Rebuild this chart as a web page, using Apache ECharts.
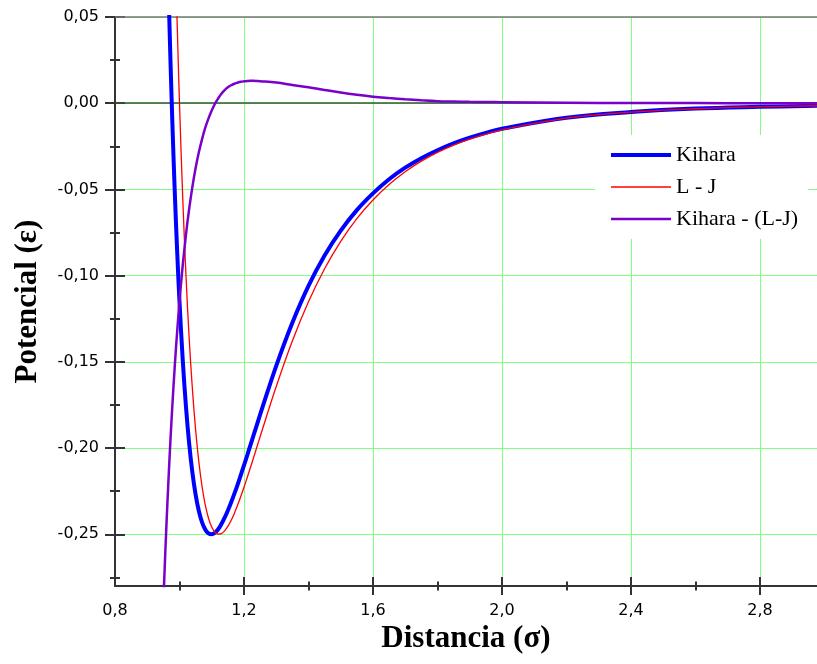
<!DOCTYPE html>
<html>
<head>
<meta charset="utf-8">
<script src="https://cdn.jsdelivr.net/npm/echarts@6/dist/echarts.min.js"></script>
<style>
  html, body { margin: 0; padding: 0; background: #fff; }
  #chart { width: 817px; height: 664px; }
</style>
</head>
<body>
<div id="chart"></div>
<script>
// Distance (sigma)
var distancia = [0.95,0.955,0.96,0.965,0.97,0.975,0.98,0.985,0.99,0.995,1.00,1.01,1.02,1.03,1.04,1.05,1.06,1.07,1.08,1.09,1.10,1.11,1.12,1.13,1.14,1.15,1.16,1.17,1.18,1.19,1.20,1.21,1.22,1.23,1.24,1.25,1.30,1.35,1.40,1.45,1.50,1.55,1.60,1.65,1.70,1.75,1.80,1.85,1.90,1.95,2.00,2.20,2.40,2.60,2.80,3.00];
// Kihara potential (epsilon)
var kihara = [0.2006,0.1542,0.1119,0.0733,0.0381,0.0061,-0.0231,-0.0496,-0.0736,-0.0954,-0.1150,-0.1487,-0.1758,-0.1974,-0.2142,-0.2270,-0.2365,-0.2431,-0.2473,-0.2495,-0.2500,-0.2491,-0.2471,-0.2441,-0.2404,-0.2362,-0.2316,-0.2266,-0.2213,-0.2157,-0.2100,-0.2042,-0.1983,-0.1924,-0.1865,-0.1806,-0.1523,-0.1273,-0.1059,-0.0883,-0.0739,-0.0620,-0.0523,-0.0441,-0.0374,-0.0319,-0.0273,-0.0233,-0.0200,-0.0172,-0.0148,-0.0084,-0.0051,-0.0031,-0.0021,-0.0014];
// Lennard-Jones potential (epsilon)
var lennardJones = [0.4903,0.4194,0.3545,0.2952,0.2407,0.1910,0.1455,0.1039,0.0660,0.0315,0.0000,-0.0546,-0.0995,-0.1361,-0.1657,-0.1894,-0.2080,-0.2223,-0.2331,-0.2407,-0.2458,-0.2488,-0.2499,-0.2496,-0.2480,-0.2454,-0.2420,-0.2379,-0.2332,-0.2281,-0.2227,-0.2171,-0.2113,-0.2054,-0.1994,-0.1934,-0.1643,-0.1379,-0.1152,-0.0960,-0.0801,-0.0669,-0.0561,-0.0471,-0.0397,-0.0336,-0.0285,-0.0243,-0.0208,-0.0179,-0.0154,-0.0087,-0.0052,-0.0032,-0.0021,-0.0014];
// Kihara - (L-J)
var diferencia = [-0.2897,-0.2652,-0.2426,-0.2219,-0.2026,-0.1849,-0.1686,-0.1535,-0.1396,-0.1269,-0.1150,-0.0941,-0.0763,-0.0613,-0.0485,-0.0376,-0.0285,-0.0208,-0.0142,-0.0088,-0.0042,-0.0003,0.0028,0.0055,0.0076,0.0092,0.0104,0.0113,0.0119,0.0124,0.0127,0.0129,0.0130,0.0130,0.0129,0.0128,0.0120,0.0106,0.0093,0.0077,0.0062,0.0049,0.0038,0.0030,0.0023,0.0017,0.0012,0.0010,0.0008,0.0007,0.0006,0.0003,0.0001,0.0001,0.0000,0.0000];

var seriesNames = ['Kihara', 'L - J', 'Kihara - (L-J)'];
var xMajorTicks = [1.2, 1.6, 2.0, 2.4, 2.8];
var xMinorTicks = [1.0, 1.4, 1.8, 2.2, 2.6];
var xTickLabels = [0.8, 1.2, 1.6, 2.0, 2.4, 2.8];
var yMajorTicks = [-0.25, -0.20, -0.15, -0.10, -0.05, 0.00, 0.05];
var yMinorTicks = [-0.275, -0.225, -0.175, -0.125, -0.075, -0.025, 0.025];
var xRange = [0.8, 2.977];
var yRange = [-0.28, 0.05];
var refLines = [0.00, 0.05];

function pairs(ys) { return distancia.map(function (x, i) { return [x, ys[i]]; }); }

var AX = '#333333';
var GREEN = '#80ff80';

function helperX(ticks, len) {
  return {
    type: 'value', min: xRange[0], max: xRange[1], position: 'bottom', offset: -len / 2,
    axisLine: { show: false, onZero: false }, axisLabel: { show: false }, splitLine: { show: false },
    axisTick: { show: true, inside: false, length: len, customValues: ticks, lineStyle: { color: AX, width: 2 } }
  };
}
function helperY(ticks, len) {
  return {
    type: 'value', min: yRange[0], max: yRange[1], position: 'left', offset: -len / 2,
    axisLine: { show: false, onZero: false }, axisLabel: { show: false }, splitLine: { show: false },
    axisTick: { show: true, inside: false, length: len, customValues: ticks, lineStyle: { color: AX, width: 2 } }
  };
}

var chart = echarts.init(document.getElementById('chart'), null, { renderer: 'canvas' });
chart.setOption({
  animation: false,
  backgroundColor: '#ffffff',
  grid: { left: 115, right: 0, top: 17, bottom: 78, containLabel: false, outerBoundsMode: 'none' },
  legend: {
    orient: 'vertical', left: 595, top: 135, padding: [9, 10, 9, 14],
    backgroundColor: '#ffffff', itemWidth: 60, itemHeight: 14, itemGap: 10,
    textStyle: { fontFamily: 'Liberation Serif', fontSize: 22, color: '#000', lineHeight: 22 },
    data: [
      { name: seriesNames[0], itemStyle: { opacity: 0 }, lineStyle: { width: 4, color: '#0000ff' } },
      { name: seriesNames[1], itemStyle: { opacity: 0 }, lineStyle: { width: 1.3, color: '#ff0000' } },
      { name: seriesNames[2], itemStyle: { opacity: 0 }, lineStyle: { width: 2.5, color: '#7a00cc' } }
    ]
  },
  xAxis: [
    {
      type: 'value', min: xRange[0], max: xRange[1], interval: 0.4, position: 'bottom',
      name: 'Distancia (σ)', nameLocation: 'middle', nameGap: 34,
      nameTextStyle: { fontFamily: 'Liberation Serif', fontWeight: 'bold', fontSize: 31, color: '#000' },
      axisLine: { show: true, onZero: false, lineStyle: { color: AX, width: 2 } },
      axisTick: { show: false },
      axisLabel: {
        customValues: xTickLabels, margin: 17, fontFamily: 'DejaVu Sans', fontSize: 16, color: '#000',
        formatter: function (v) { return v.toFixed(1).replace('.', ','); }
      },
      splitLine: { show: true, lineStyle: { color: GREEN, width: 1 } }
    },
    helperX(xMajorTicks, 18),
    helperX(xMinorTicks, 9)
  ],
  yAxis: [
    {
      type: 'value', min: yRange[0], max: yRange[1], position: 'left', splitNumber: 6,
      name: 'Potencial (ε)', nameLocation: 'middle', nameGap: 72, nameRotate: 90,
      nameTextStyle: { fontFamily: 'Liberation Serif', fontWeight: 'bold', fontSize: 31, color: '#000' },
      axisLine: { show: true, onZero: false, lineStyle: { color: AX, width: 2 } },
      axisTick: { show: false },
      axisLabel: {
        customValues: yMajorTicks, margin: 16, fontFamily: 'DejaVu Sans', fontSize: 16, color: '#000',
        formatter: function (v) { return v.toFixed(2).replace('.', ','); }
      },
      splitLine: { show: true, lineStyle: { color: GREEN, width: 1 } }
    },
    helperY(yMajorTicks, 20),
    helperY(yMinorTicks, 10)
  ],
  series: [
    {
      name: seriesNames[0], type: 'line', data: pairs(kihara), showSymbol: false, symbol: 'none',
      smooth: 0.4, clip: true, lineStyle: { color: '#0000ff', width: 4 }, itemStyle: { color: '#0000ff' },
      markLine: {
        silent: true, symbol: 'none', z: 1, label: { show: false },
        data: [
          { yAxis: refLines[0], lineStyle: { color: '#2f5a2f', width: 1.5, type: 'solid' } },
          { yAxis: refLines[1], lineStyle: { color: '#777777', width: 1.5, type: 'solid' } }
        ]
      }
    },
    {
      name: seriesNames[1], type: 'line', data: pairs(lennardJones), showSymbol: false, symbol: 'none',
      smooth: 0.4, clip: true, lineStyle: { color: '#ff0000', width: 1.3 }, itemStyle: { color: '#ff0000' }
    },
    {
      name: seriesNames[2], type: 'line', data: pairs(diferencia), showSymbol: false, symbol: 'none',
      smooth: 0.4, clip: true, lineStyle: { color: '#7a00cc', width: 2.5 }, itemStyle: { color: '#7a00cc' }
    }
  ]
});
</script>
</body>
</html>
